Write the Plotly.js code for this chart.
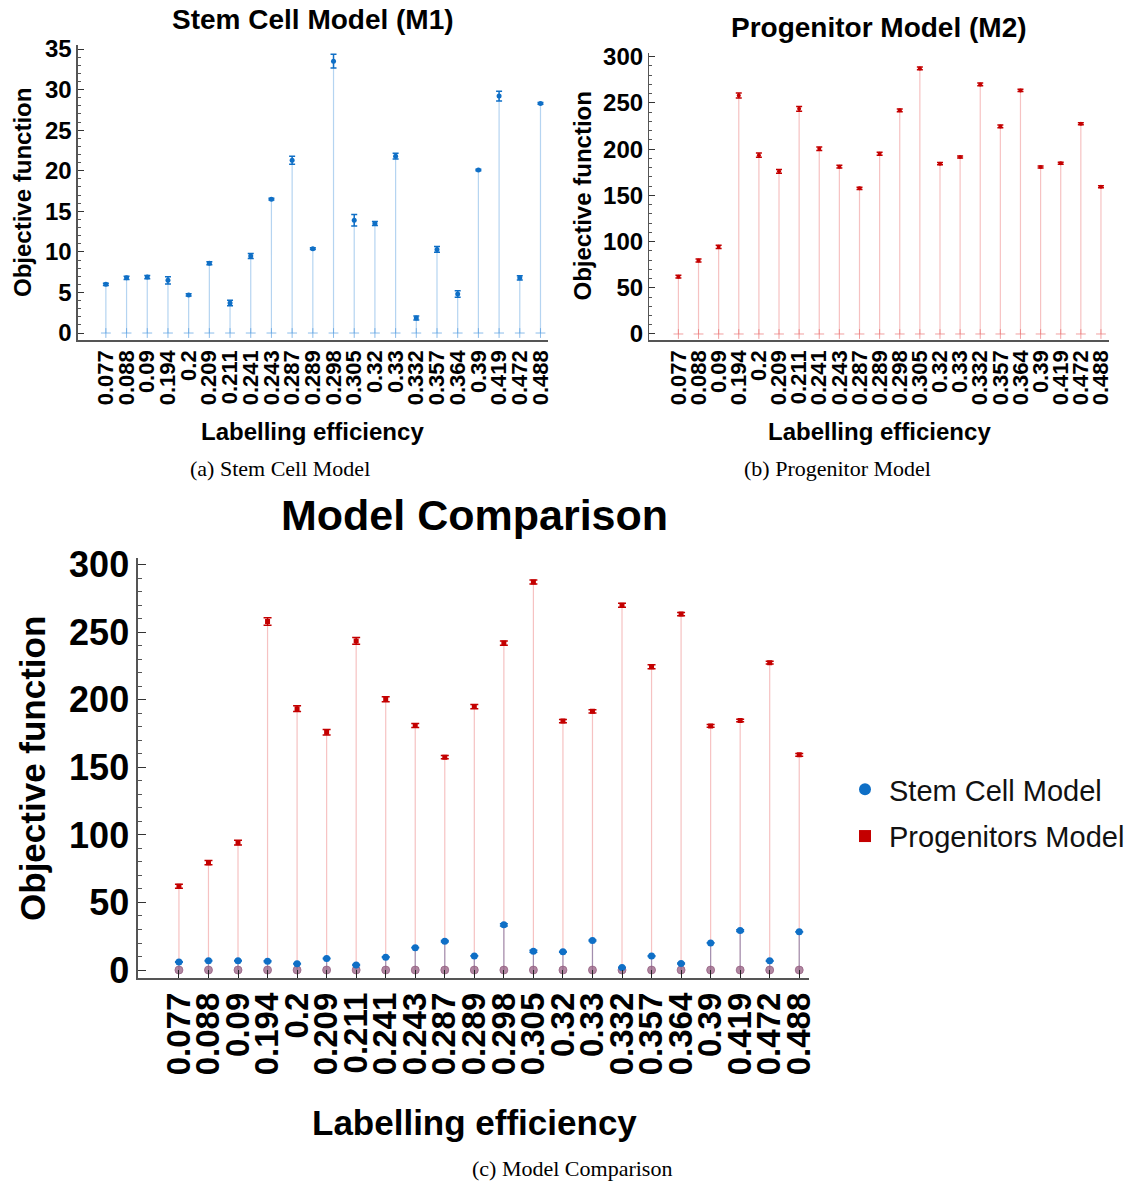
<!DOCTYPE html>
<html>
<head>
<meta charset="utf-8">
<script src="https://cdn.plot.ly/plotly-3.0.1.min.js"></script>
<style>html,body{margin:0;padding:0;background:#fff;}#chart{width:1130px;height:1184px;}</style>
</head>
<body>
<div id="chart"></div>
<script>
// ---- data ----
const categories = ['0.077','0.088','0.09','0.194','0.2','0.209','0.211','0.241','0.243','0.287','0.289','0.298','0.305','0.32','0.33','0.332','0.357','0.364','0.39','0.419','0.472','0.488'];
const stemValues = [6.0,6.8,6.9,6.5,4.7,8.6,3.7,9.5,16.5,21.3,10.4,33.5,13.9,13.5,21.8,1.85,10.3,4.8,20.1,29.2,6.8,28.3];
const stemErrors = [0.15,0.2,0.2,0.45,0.15,0.2,0.35,0.3,0.1,0.5,0.1,0.85,0.7,0.25,0.35,0.25,0.35,0.4,0.1,0.6,0.25,0.1];
const progValues = [62,79.5,94.3,258,193.5,176,243.6,200.4,181,157.6,195,242,287.3,184.3,191.5,270,224.5,263.5,180.7,184.7,227.5,159.3];
const progErrors = [1.5,1.5,1.8,2.8,2.2,2,2.5,1.8,1.5,1.2,1.5,1.5,1.5,1.2,1.2,1.5,1.5,1.2,1,1,1,1];
const seriesNames = ['Stem Cell Model','Progenitors Model'];

const W = 1130, H = 1184;
const px = x => x / W;
const py = y => 1 - y / H;

const BLUE = '#0f6fc6', RED = '#c40000';
const BLUE_STEM = 'rgba(90,160,225,0.45)', RED_STEM = 'rgba(235,120,120,0.45)';
const zeros = categories.map(() => 0);

function stems(vals, color, xa, ya, thick) {
  return {type:'scatter', mode:'markers', x:categories, y:vals, xaxis:xa, yaxis:ya,
    marker:{opacity:0, size:1}, showlegend:false, hoverinfo:'skip',
    error_y:{type:'data', symmetric:false, array:zeros, arrayminus:vals, width:0, thickness:thick, color:color}};
}
function zeroMarks(color, xa, ya, symbol, size) {
  return {type:'scatter', mode:'markers', x:categories, y:zeros, xaxis:xa, yaxis:ya, showlegend:false,
    marker:{symbol:symbol, size:size, color:color, line:{color:color, width:1}}, hoverinfo:'skip'};
}
function points(vals, errs, color, xa, ya, symbol, size, cap, name, legend, group) {
  return {type:'scatter', mode:'markers', x:categories, y:vals, xaxis:xa, yaxis:ya, name:name, showlegend:legend,
    legendgroup:group,
    marker:{symbol:symbol, size:size, color:color},
    error_y:{type:'data', array:errs, visible:true, color:color, thickness:1.5, width:cap}};
}

const traces = [
  // top-left
  stems(stemValues, BLUE_STEM, 'x', 'y', 1.2),
  zeroMarks('rgba(90,160,225,0.7)', 'x', 'y', 'cross-thin', 7),
  points(stemValues, stemErrors, BLUE, 'x', 'y', 'circle', 5, 3, seriesNames[0], false, 'a'),
  // top-right
  stems(progValues, RED_STEM, 'x2', 'y2', 1.2),
  zeroMarks('rgba(235,120,120,0.7)', 'x2', 'y2', 'cross-thin', 7),
  points(progValues, progErrors, RED, 'x2', 'y2', 'circle', 4, 3, seriesNames[1], false, 'b'),
  // bottom
  stems(progValues, RED_STEM, 'x3', 'y3', 1.2),
  stems(stemValues, 'rgba(60,80,150,0.45)', 'x3', 'y3', 1.2),
  zeroMarks('rgba(150,95,130,0.75)', 'x3', 'y3', 'circle', 8),
  points(stemValues, stemErrors, BLUE, 'x3', 'y3', 'circle', 7, 4, seriesNames[0], true, 'a'),
  points(progValues, progErrors, RED, 'x3', 'y3', 'square', 5, 4, seriesNames[1], true, 'b')
];

const FONT = 'Liberation Sans, Arial, sans-serif';
const SERIF = 'Liberation Serif, Times New Roman, serif';
function xaxisDef(domain, range, anchor, size, ticks) {
  return {domain:domain, range:range, anchor:anchor, type:'category', tickangle:-90,
    tickmode:'array', tickvals:categories, ticktext:categories,
    showline:true, linecolor:'#555', linewidth:1.5, zeroline:false, showgrid:false,
    ticks:ticks ? 'inside' : '', ticklen:8, tickcolor:'#222',
    tickfont:{family:FONT, size:size, color:'#000', weight:'bold'}, fixedrange:true};
}
function yaxisDef(domain, range, anchor, size, dtick, minor, len) {
  return {domain:domain, range:range, anchor:anchor, showline:true, linecolor:'#555', linewidth:1.5,
    zeroline:false, showgrid:false, ticks:'inside', ticklen:len, tickcolor:'#333', dtick:dtick, tick0:0,
    minor:{ticks:'inside', dtick:minor, ticklen:len/2, tickcolor:'#555'},
    tickfont:{family:FONT, size:size, color:'#000', weight:'bold'}, fixedrange:true};
}

function ann(text, x, y, size, opts) {
  return Object.assign({text:text, x:px(x), y:py(y), xref:'paper', yref:'paper', showarrow:false,
    xanchor:'center', yanchor:'middle', font:{family:FONT, size:size, color:'#000', weight:'bold'}}, opts || {});
}
const capFont = {family:SERIF, size:22, color:'#000'};

const layout = {
  width:W, height:H, margin:{l:0, r:0, t:0, b:0}, paper_bgcolor:'#fff', plot_bgcolor:'#fff',
  xaxis: xaxisDef([px(78), px(548)], [-1.35, 21.34], 'y', 22, false),
  yaxis: yaxisDef([py(340), py(45)], [-0.86, 35.5], 'x', 24, 5, 1, 6),
  xaxis2: xaxisDef([px(650), px(1110)], [-1.44, 21.4], 'y2', 22, false),
  yaxis2: yaxisDef([py(340), py(53)], [-6.5, 304], 'x2', 24, 50, 10, 6),
  xaxis3: xaxisDef([px(138), px(810)], [-1.39, 21.34], 'y3', 33, true),
  yaxis3: yaxisDef([py(978), py(558)], [-5.9, 305], 'x3', 36, 50, 10, 8),
  showlegend:true,
  legend:{x:px(842), y:py(813), xanchor:'left', yanchor:'middle', itemsizing:'constant', itemwidth:38,
    font:{family:FONT, size:29, color:'#111'}, tracegroupgap:6, bgcolor:'rgba(0,0,0,0)'},
  annotations:[
    ann('Stem Cell Model (M1)', 313, 20, 28),
    ann('Progenitor Model (M2)', 880, 27, 28),
    ann('Objective function', 22, 192, 24, {textangle:-90}),
    ann('Objective function', 583, 196, 24, {textangle:-90}),
    ann('Labelling efficiency', 313, 431, 24),
    ann('Labelling efficiency', 880, 431, 24),
    ann('(a) Stem Cell Model', 280, 468, 22, {font:capFont}),
    ann('(b) Progenitor Model', 838, 468, 22, {font:capFont}),
    ann('Model Comparison', 475, 515, 43),
    ann('Objective function', 32, 768, 35, {textangle:-90}),
    ann('Labelling efficiency', 475, 1122, 35),
    ann('(c) Model Comparison', 573, 1168, 22, {font:capFont})
  ]
};

Plotly.newPlot('chart', traces, layout, {staticPlot:true, displayModeBar:false});
</script>
</body>
</html>
